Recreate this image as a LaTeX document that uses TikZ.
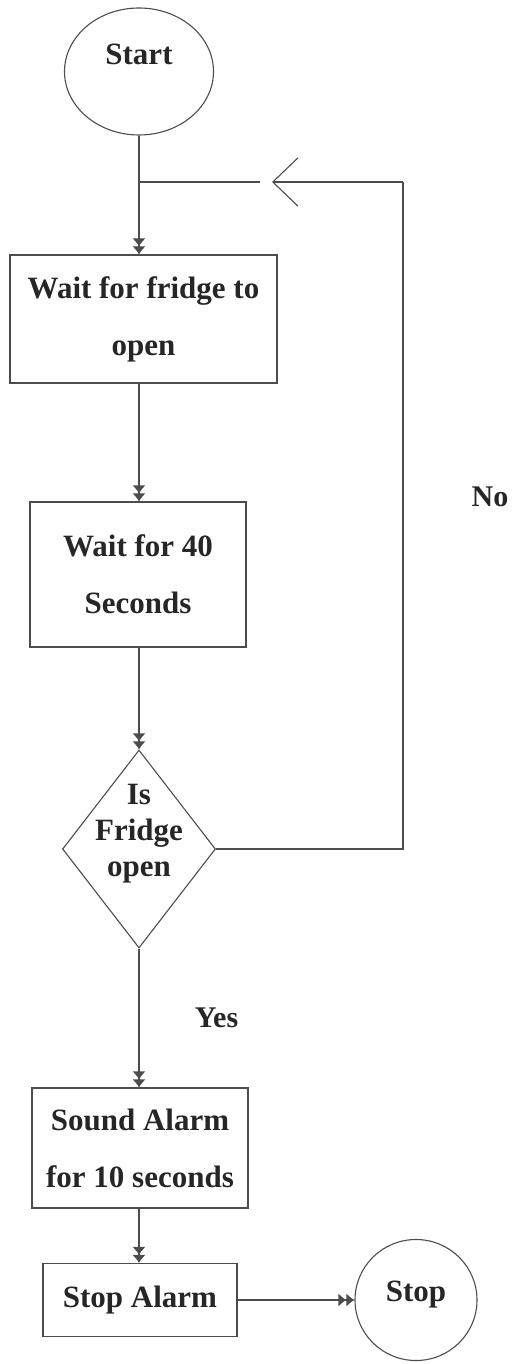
\documentclass[tikz,border=0pt]{standalone}
\usepackage{fontspec}
\setmainfont{Liberation Serif}
\usetikzlibrary{shapes.geometric,arrows.meta}

\tikzset{
  flowline/.style={draw=black!70, line width=1.1pt},
  flowarrow/.style={flowline, -{Latex[length=8pt,width=13pt]Latex[length=8pt,width=13pt]}},
  terminal/.style={ellipse, flowline, inner sep=0pt, text height=21pt, text=black!85,
    font=\fontsize{31}{36}\selectfont\bfseries},
  process/.style={rectangle, flowline, inner sep=2pt, align=center, text=black!85,
    font=\fontsize{31}{57}\selectfont\bfseries},
  decision/.style={diamond, flowline, inner sep=0pt, minimum width=153pt, minimum height=198pt},
  caption/.style={text=black!85, font=\fontsize{30}{36}\selectfont\bfseries},
}

\begin{document}
\begin{tikzpicture}[x=1pt, y=-1pt]
  \useasboundingbox (0,0) rectangle (513,1364);

  % Start / Stop
  \node[terminal, minimum width=149pt, minimum height=127pt, text depth=35pt] (start) at (139,71.5) {Start};
  \node[terminal, minimum width=122pt, minimum height=121pt, text depth=19pt] (stop) at (416,1300) {Stop};

  % Steps
  \node[process, minimum width=267pt, minimum height=128pt] (waitopen) at (143.5,319) {Wait for fridge to\\open};
  \node[process, minimum width=216pt, minimum height=145pt] (waitforty) at (138,574.5) {Wait for 40\\Seconds};
  \node[decision, label={[caption, align=center, font=\fontsize{31}{36}\selectfont\bfseries, yshift=15pt]center:{Is\\Fridge\\open}}] (isopen) at (139,849) {};
  \node[process, minimum width=216pt, minimum height=120pt] (sound) at (140,1148) {Sound Alarm\\for 10 seconds};
  \node[process, minimum width=194pt, minimum height=73pt] (alarmoff) at (140,1300) {Stop Alarm};

  % Loop points
  \coordinate (join) at (139,182);
  \coordinate (loop) at (403,182);
  \coordinate (barb) at (272,182);

  % Main flow
  \draw[flowarrow] (join |- start.south) -- (join |- waitopen.north);
  \draw[flowarrow] (join |- waitopen.south) -- (join |- waitforty.north);
  \draw[flowarrow] (join |- waitforty.south) -- (isopen.north);
  \draw[flowarrow] (isopen.south) -- node[caption, right=52pt] (yes) {Yes} (join |- sound.north);
  \draw[flowarrow] (join |- sound.south) -- (join |- alarmoff.north);
  \draw[flowarrow] (alarmoff.east) -- (stop.west);

  % No: back to waiting
  \draw[flowline] (isopen.east) -| (loop);
  \draw[flowline, -{Straight Barb[length=25pt, width=48pt]}] (loop) -- (barb);
  \draw[flowline] ([xshift=-12pt]barb) -- (join);
  \node[caption] (no) at (490,497) {No};
\end{tikzpicture}
\end{document}
